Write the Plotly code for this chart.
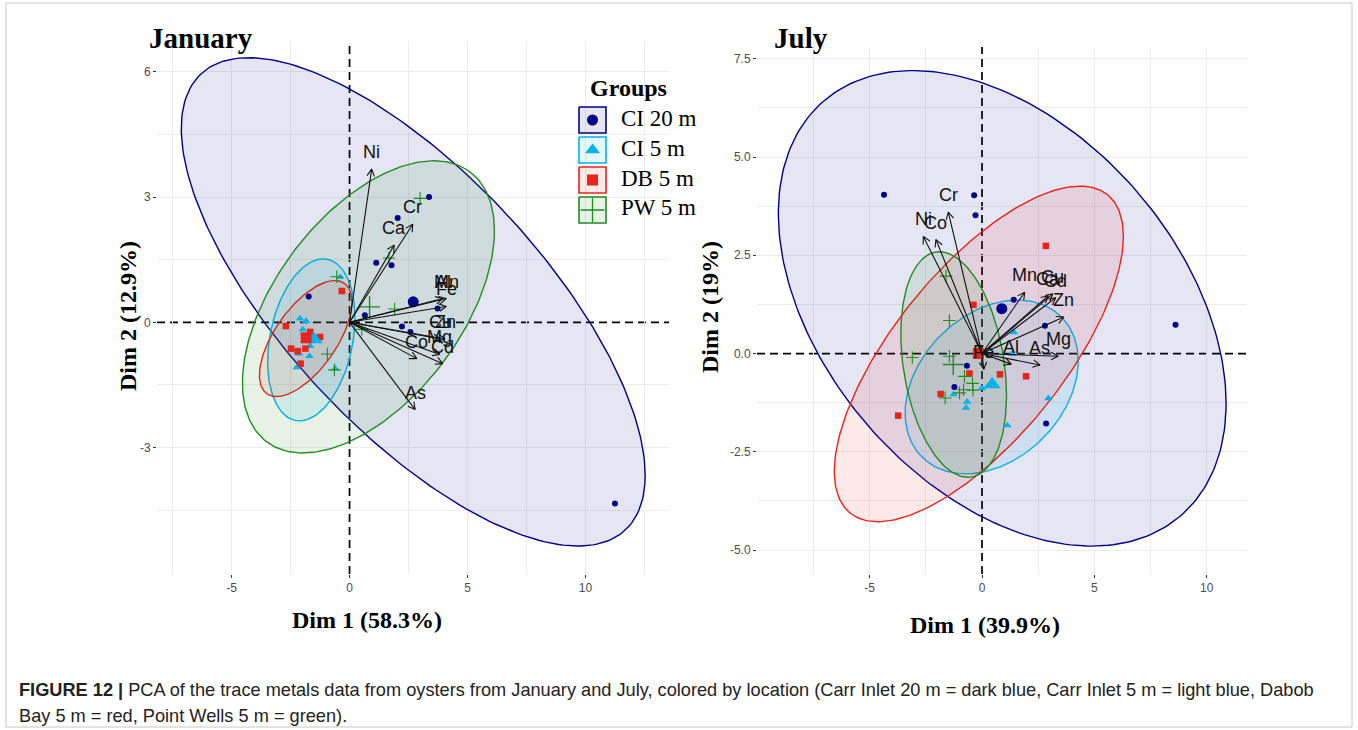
import numpy as np
import plotly.graph_objects as go

W, H = 1358, 730

GROUPS = ["CI 20 m", "CI 5 m", "DB 5 m", "PW 5 m"]
COLORS = ["#00008B", "#00B2EE", "#E8231A", "#228B22"]
SYMBOLS = ["circle", "triangle-up", "square", "cross-thin"]
PT_SIZE = [6, 7.5, 6.5, 9]
MEAN_SIZE = [11, 15, 11, 15]

# ---------------- January: individuals ----------------
jan_ci20_x = [3.37, 2.04, 1.13, 1.78, -1.73, 0.65, 3.73, 2.22, 2.58, 11.25]
jan_ci20_y = [3.00, 2.50, 1.43, 1.37, 0.62, 0.17, 0.33, -0.10, -0.23, -4.34]
jan_ci5_x = [-2.10, -1.84, -1.98, -1.67, -2.15, -1.70, -0.61, -0.40, -2.24]
jan_ci5_y = [0.09, 0.03, -0.17, -0.57, -0.75, -0.81, -1.11, 1.08, -1.08]
jan_db5_x = [-0.33, -2.70, -1.67, -1.25, -2.48, -2.20, -1.87, -2.07]
jan_db5_y = [0.75, -0.09, -0.23, -0.35, -0.63, -0.69, -0.63, -0.99]
jan_pw5_x = [2.99, 1.67, -0.54, 1.91, 0.52, -0.94, -0.64]
jan_pw5_y = [2.97, 1.54, 1.09, 0.32, -0.17, -0.76, -1.14]

# group means (CI 20 m, CI 5 m, DB 5 m, PW 5 m)
jan_mean_x = [2.70, -1.50, -1.84, 0.85]
jan_mean_y = [0.49, -0.41, -0.37, 0.37]

# concentration ellipses: centre, spread along each dim, correlation
jan_ell_cx = [2.70, -1.62, -1.86, 0.80]
jan_ell_cy = [0.49, -0.42, -0.39, 0.37]
jan_ell_sx = [9.83, 1.85, 1.96, 5.34]
jan_ell_sy = [5.85, 1.94, 1.39, 3.50]
jan_ell_r = [-0.71, 0.27, 0.63, 0.52]

# variables (loadings)
jan_var = ["Ni", "Cr", "Ca", "Al", "Mn", "Fe", "Cu", "Zn", "Mg", "Co", "Cd", "As"]
jan_var_x = [0.94, 2.68, 1.89, 3.95, 4.10, 4.10, 3.85, 4.05, 3.83, 2.85, 3.95, 2.78]
jan_var_y = [3.67, 2.35, 1.85, 0.57, 0.57, 0.38, -0.40, -0.40, -0.77, -0.87, -0.99, -2.09]

jan_xticks = [-5, 0, 5, 10]
jan_xtick_text = ["-5", "0", "5", "10"]
jan_yticks = [-3, 0, 3, 6]
jan_ytick_text = ["-3", "0", "3", "6"]
jan_xgrid = [-7.5, -5, -2.5, 2.5, 5, 7.5, 10, 12.5]
jan_ygrid = [-4.5, -3, -1.5, 1.5, 3, 4.5, 6]

# ---------------- July: individuals ----------------
jul_ci20_x = [-4.36, -0.35, -0.29, 1.41, 2.80, -0.67, -1.23, 2.85, 8.61]
jul_ci20_y = [4.04, 4.03, 3.52, 1.37, 0.71, -0.31, -0.85, -1.78, 0.73]
jul_ci5_x = [1.42, 1.34, 0.00, -1.26, -0.66, -0.71, 1.13, 2.95]
jul_ci5_y = [0.54, 0.00, -0.88, -1.04, -1.23, -1.38, -1.83, -1.14]
jul_db5_x = [2.84, -0.38, -0.56, 0.80, 1.96, -1.84, -3.73]
jul_db5_y = [2.74, 1.24, -0.51, -0.53, -0.58, -1.03, -1.58]
jul_pw5_x = [-1.60, -1.45, -3.10, -1.45, -0.78, -0.42, -0.82, -1.00, -0.40, -1.64]
jul_pw5_y = [1.97, 0.84, -0.10, -0.07, -0.58, -0.76, -0.92, -1.00, -0.93, -1.13]

jul_mean_x = [0.88, 0.45, -0.16, -1.28]
jul_mean_y = [1.14, -0.79, 0.00, -0.28]

jul_ell_cx = [0.90, 0.43, -0.14, -1.26]
jul_ell_cy = [1.15, -0.85, -0.01, -0.28]
jul_ell_sx = [9.96, 3.85, 6.43, 2.35]
jul_ell_sy = [6.05, 2.21, 4.27, 2.87]
jul_ell_r = [-0.40, 0.30, 0.70, -0.27]

jul_var = ["Cr", "Ni", "Co", "Mn", "Ca", "Cu", "Cd", "Zn", "Mg", "Al", "As", "Fe"]
jul_var_x = [-1.50, -2.61, -2.05, 1.90, 2.95, 3.15, 3.28, 3.64, 3.39, 1.30, 2.58, 0.08]
jul_var_y = [3.60, 2.98, 2.90, 1.56, 1.47, 1.52, 1.42, 0.93, -0.07, -0.27, -0.29, -0.40]

jul_xticks = [-5, 0, 5, 10]
jul_xtick_text = ["-5", "0", "5", "10"]
jul_yticks = [-5, -2.5, 0, 2.5, 5, 7.5]
jul_ytick_text = ["-5.0", "-2.5", "0.0", "2.5", "5.0", "7.5"]
jul_xgrid = [-7.5, -5, -2.5, 2.5, 5, 7.5, 10]
jul_ygrid = [-5, -3.75, -2.5, -1.25, 1.25, 2.5, 3.75, 5, 6.25, 7.5]

# ---------------- layout geometry (pixels) ----------------
LEFT = dict(x0=157, x1=669, y0=41, y1=574, xr=[-8.16, 13.54], yr=[-6.03, 6.74])
RIGHT = dict(x0=757, x1=1247, y0=47, y1=574, xr=[-10.01, 11.79], yr=[-5.61, 7.80])


def px_x(p):
    return p / W


def px_y(p):
    return 1 - p / H


def rgba(hexcol, a):
    h = hexcol.lstrip("#")
    r, g, b = int(h[0:2], 16), int(h[2:4], 16), int(h[4:6], 16)
    return f"rgba({r},{g},{b},{a})"


def ellipse(cx, cy, sx, sy, r, n=240):
    t = np.linspace(0, 2 * np.pi, n)
    x = cx + sx * np.cos(t)
    y = cy + sy * (r * np.cos(t) + np.sqrt(1 - r * r) * np.sin(t))
    return x, y


def arrows(xs, ys, panel, head=8.0, ang=np.radians(28)):
    kx = (panel["x1"] - panel["x0"]) / (panel["xr"][1] - panel["xr"][0])
    ky = (panel["y1"] - panel["y0"]) / (panel["yr"][1] - panel["yr"][0])
    ax, ay = [], []
    for x, y in zip(xs, ys):
        ax += [0, x, None]
        ay += [0, y, None]
        dx, dy = x * kx, y * ky
        n = np.hypot(dx, dy)
        ux, uy = dx / n, dy / n
        pts = []
        for s in (1, -1):
            c, si = np.cos(s * ang), np.sin(s * ang)
            rx, ry = ux * c - uy * si, ux * si + uy * c
            pts.append((x - head * rx / kx, y - head * ry / ky))
        ax += [pts[0][0], x, pts[1][0], None]
        ay += [pts[0][1], y, pts[1][1], None]
    return ax, ay


fig = go.Figure()

panels = [
    ("x", "y", LEFT,
     [(jan_ci20_x, jan_ci20_y), (jan_ci5_x, jan_ci5_y), (jan_db5_x, jan_db5_y), (jan_pw5_x, jan_pw5_y)],
     (jan_mean_x, jan_mean_y),
     (jan_ell_cx, jan_ell_cy, jan_ell_sx, jan_ell_sy, jan_ell_r),
     (jan_var, jan_var_x, jan_var_y)),
    ("x2", "y2", RIGHT,
     [(jul_ci20_x, jul_ci20_y), (jul_ci5_x, jul_ci5_y), (jul_db5_x, jul_db5_y), (jul_pw5_x, jul_pw5_y)],
     (jul_mean_x, jul_mean_y),
     (jul_ell_cx, jul_ell_cy, jul_ell_sx, jul_ell_sy, jul_ell_r),
     (jul_var, jul_var_x, jul_var_y)),
]

annotations = []
shapes = []

for xa, ya, panel, pts, means, ell, var in panels:
    # reference lines through the origin
    shapes.append(dict(type="line", xref=xa, yref=f"{ya} domain", x0=0, x1=0, y0=0, y1=1,
                       line=dict(color="#000000", width=1.7, dash="8px,5px"), layer="below"))
    shapes.append(dict(type="line", xref=f"{xa} domain", yref=ya, x0=0, x1=1, y0=0, y1=0,
                       line=dict(color="#000000", width=1.7, dash="8px,5px"), layer="below"))
    # ellipses
    for g in range(4):
        ex, ey = ellipse(ell[0][g], ell[1][g], ell[2][g], ell[3][g], ell[4][g])
        fig.add_trace(go.Scatter(
            x=ex, y=ey, xaxis=xa, yaxis=ya, mode="lines", fill="toself",
            fillcolor=rgba(COLORS[g], 0.10), line=dict(color=COLORS[g], width=1.4),
            hoverinfo="skip", showlegend=False))
    # individuals
    for g in range(4):
        mk = dict(symbol=SYMBOLS[g], size=PT_SIZE[g], color=COLORS[g])
        if SYMBOLS[g] == "cross-thin":
            mk["line"] = dict(color=COLORS[g], width=1.1)
        fig.add_trace(go.Scatter(
            x=pts[g][0], y=pts[g][1], xaxis=xa, yaxis=ya, mode="markers",
            marker=mk, name=GROUPS[g], showlegend=False))
    # group means
    for g in range(4):
        mk = dict(symbol=SYMBOLS[g], size=MEAN_SIZE[g], color=COLORS[g])
        if SYMBOLS[g] == "cross-thin":
            mk["line"] = dict(color=COLORS[g], width=1.4)
        fig.add_trace(go.Scatter(
            x=[means[0][g]], y=[means[1][g]], xaxis=xa, yaxis=ya, mode="markers",
            marker=mk, showlegend=False, hoverinfo="skip"))
    # variable arrows
    axs, ays = arrows(var[1], var[2], panel)
    fig.add_trace(go.Scatter(
        x=axs, y=ays, xaxis=xa, yaxis=ya, mode="lines",
        line=dict(color="#111111", width=1.1), hoverinfo="skip", showlegend=False))
    for name, vx, vy in zip(*var):
        annotations.append(dict(
            x=vx, y=vy, xref=xa, yref=ya, text=name, showarrow=False,
            xanchor="center", yanchor="middle", yshift=17,
            font=dict(family="Liberation Sans, Arial", size=18, color="#111111")))

# ---------------- legend (drawn on a full-figure pixel axis) ----------------
leg_y = [120, 150, 180, 210]
for g in range(4):
    bx0, bx1, by0, by1 = 579, 606, leg_y[g] - 13, leg_y[g] + 13
    fig.add_trace(go.Scatter(
        x=[bx0, bx1, bx1, bx0, bx0], y=[by0, by0, by1, by1, by0], xaxis="x3", yaxis="y3",
        mode="lines", fill="toself", fillcolor=rgba(COLORS[g], 0.10),
        line=dict(color=COLORS[g], width=1.6), hoverinfo="skip", showlegend=False))
    annotations.append(dict(x=px_x(619), y=px_y(leg_y[g] - 2), xref="paper", yref="paper",
                            xanchor="left", yanchor="middle", showarrow=False, text=GROUPS[g],
                            font=dict(family="Liberation Serif, Times New Roman", size=23, color="#000000")))
fig.add_trace(go.Scatter(
    x=[592.5] * 4, y=leg_y, xaxis="x3", yaxis="y3", mode="markers",
    marker=dict(symbol=SYMBOLS, size=[11, 13, 11, 17], color=COLORS, opacity=1,
                line=dict(color=COLORS, width=[0, 0, 0, 1.3])),
    hoverinfo="skip", showlegend=False))
annotations.append(dict(x=px_x(628), y=px_y(88), xref="paper", yref="paper", showarrow=False,
                        xanchor="center", yanchor="middle", text="<b>Groups</b>",
                        font=dict(family="Liberation Serif, Times New Roman", size=24, color="#000000")))

# ---------------- titles ----------------
serif_b = dict(family="Liberation Serif, Times New Roman", color="#000000")


def label(px, py, text, size, xanchor="center", angle=0):
    return dict(x=px_x(px), y=px_y(py), xref="paper", yref="paper", showarrow=False,
                xanchor=xanchor, yanchor="middle", textangle=angle, text=text,
                font=dict(size=size, **serif_b))


annotations += [
    label(147, 38, "<b>January</b>", 29, xanchor="left"),
    label(772, 38, "<b>July</b>", 29, xanchor="left"),
    label(367, 620, "<b>Dim 1 (58.3%)</b>", 24),
    label(985, 625, "<b>Dim 1 (39.9%)</b>", 24),
    label(128, 316, "<b>Dim 2 (12.9%)</b>", 24, angle=-90),
    label(710, 307, "<b>Dim 2 (19%)</b>", 24, angle=-90),
]

# ---------------- caption ----------------
cap_font = dict(family="Liberation Sans, Arial", size=18.2, color="#222222")
annotations += [
    dict(x=px_x(17), y=px_y(690), xref="paper", yref="paper", xanchor="left", yanchor="middle",
         showarrow=False,
         text="<b>FIGURE 12 |</b> PCA of the trace metals data from oysters from January and July, "
              "colored by location (Carr Inlet 20 m = dark blue, Carr Inlet 5 m = light blue, Dabob",
         font=cap_font),
    dict(x=px_x(17), y=px_y(716), xref="paper", yref="paper", xanchor="left", yanchor="middle",
         showarrow=False, text="Bay 5 m = red, Point Wells 5 m = green).", font=cap_font),
]

shapes.append(dict(type="rect", xref="paper", yref="paper", x0=px_x(6), x1=px_x(1352),
                   y0=px_y(727), y1=px_y(3), line=dict(color="#C8C8C8", width=1)))

tickfont = dict(family="Liberation Sans, Arial", size=12, color="#4D4D4D")


def axis(dom, rng, vals, text, grid):
    # grid lines are drawn from the minor set so the origin stays clear for the dashed line
    return dict(domain=dom, range=rng, tickmode="array", tickvals=vals, ticktext=text,
                showgrid=False, zeroline=False, showline=False,
                ticks="outside", ticklen=3, tickcolor="#333333", tickwidth=1, tickfont=tickfont,
                minor=dict(tickvals=grid, showgrid=True, gridcolor="#ECECEC", gridwidth=1, ticks=""),
                fixedrange=True)


fig.update_layout(
    width=W, height=H, margin=dict(l=0, r=0, t=0, b=0),
    paper_bgcolor="white", plot_bgcolor="rgba(0,0,0,0)",
    showlegend=False,
    xaxis=dict(anchor="y", **axis([px_x(LEFT["x0"]), px_x(LEFT["x1"])], LEFT["xr"],
                                  jan_xticks, jan_xtick_text, jan_xgrid)),
    yaxis=dict(anchor="x", **axis([px_y(LEFT["y1"]), px_y(LEFT["y0"])], LEFT["yr"],
                                  jan_yticks, jan_ytick_text, jan_ygrid)),
    xaxis2=dict(anchor="y2", **axis([px_x(RIGHT["x0"]), px_x(RIGHT["x1"])], RIGHT["xr"],
                                    jul_xticks, jul_xtick_text, jul_xgrid)),
    yaxis2=dict(anchor="x2", **axis([px_y(RIGHT["y1"]), px_y(RIGHT["y0"])], RIGHT["yr"],
                                    jul_yticks, jul_ytick_text, jul_ygrid)),
    xaxis3=dict(domain=[0, 1], range=[0, W], visible=False, anchor="y3", fixedrange=True),
    yaxis3=dict(domain=[0, 1], range=[H, 0], visible=False, anchor="x3", fixedrange=True),
    annotations=annotations,
    shapes=shapes,
)

fig.write_html("out.html")
